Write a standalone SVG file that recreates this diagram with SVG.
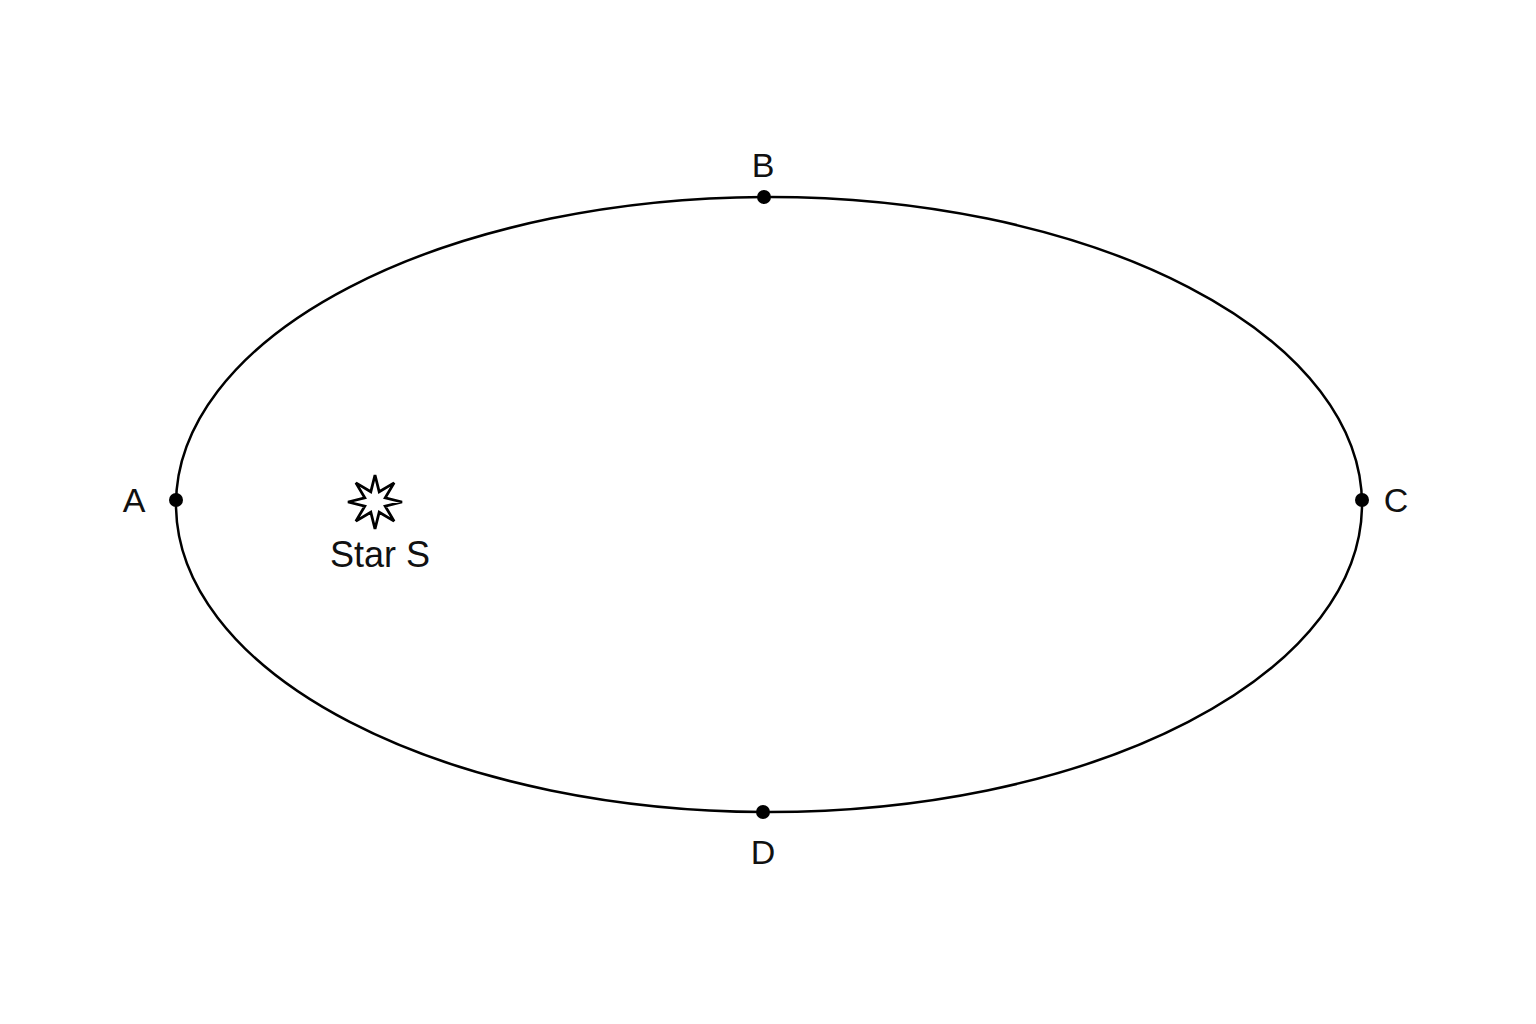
<svg xmlns="http://www.w3.org/2000/svg" width="1536" height="1024" viewBox="0 0 1536 1024">
<style>
.lbl{font-family:"Liberation Sans",Arial,sans-serif;font-size:34px;fill:#111;text-anchor:middle}
.dot{fill:#000}
</style>
<rect width="1536" height="1024" fill="#fff"/>
<g id="orbit">
<ellipse cx="769" cy="504.5" rx="593" ry="307.5" fill="none" stroke="#000" stroke-width="2.5"/>
</g>
<g id="star">
<polygon points="375,475 379.2,491.8 394.1,482.9 385.2,497.8 402,502 385.2,506.2 394.1,521.1 379.2,512.2 375,529 370.8,512.2 355.9,521.1 364.8,506.2 348,502 364.8,497.8 355.9,482.9 370.8,491.8" fill="#fff" stroke="#000" stroke-width="2.8" stroke-linejoin="miter"/>
<text class="lbl" x="380" y="567" style="font-size:36px">Star S</text>
</g>
<g id="pointA"><circle class="dot" cx="176" cy="500" r="7"/><text class="lbl" x="134" y="512">A</text></g>
<g id="pointB"><circle class="dot" cx="764" cy="197" r="7"/><text class="lbl" x="763" y="177">B</text></g>
<g id="pointC"><circle class="dot" cx="1362" cy="500" r="7"/><text class="lbl" x="1396" y="512">C</text></g>
<g id="pointD"><circle class="dot" cx="763" cy="812" r="7"/><text class="lbl" x="763" y="864">D</text></g>
</svg>
